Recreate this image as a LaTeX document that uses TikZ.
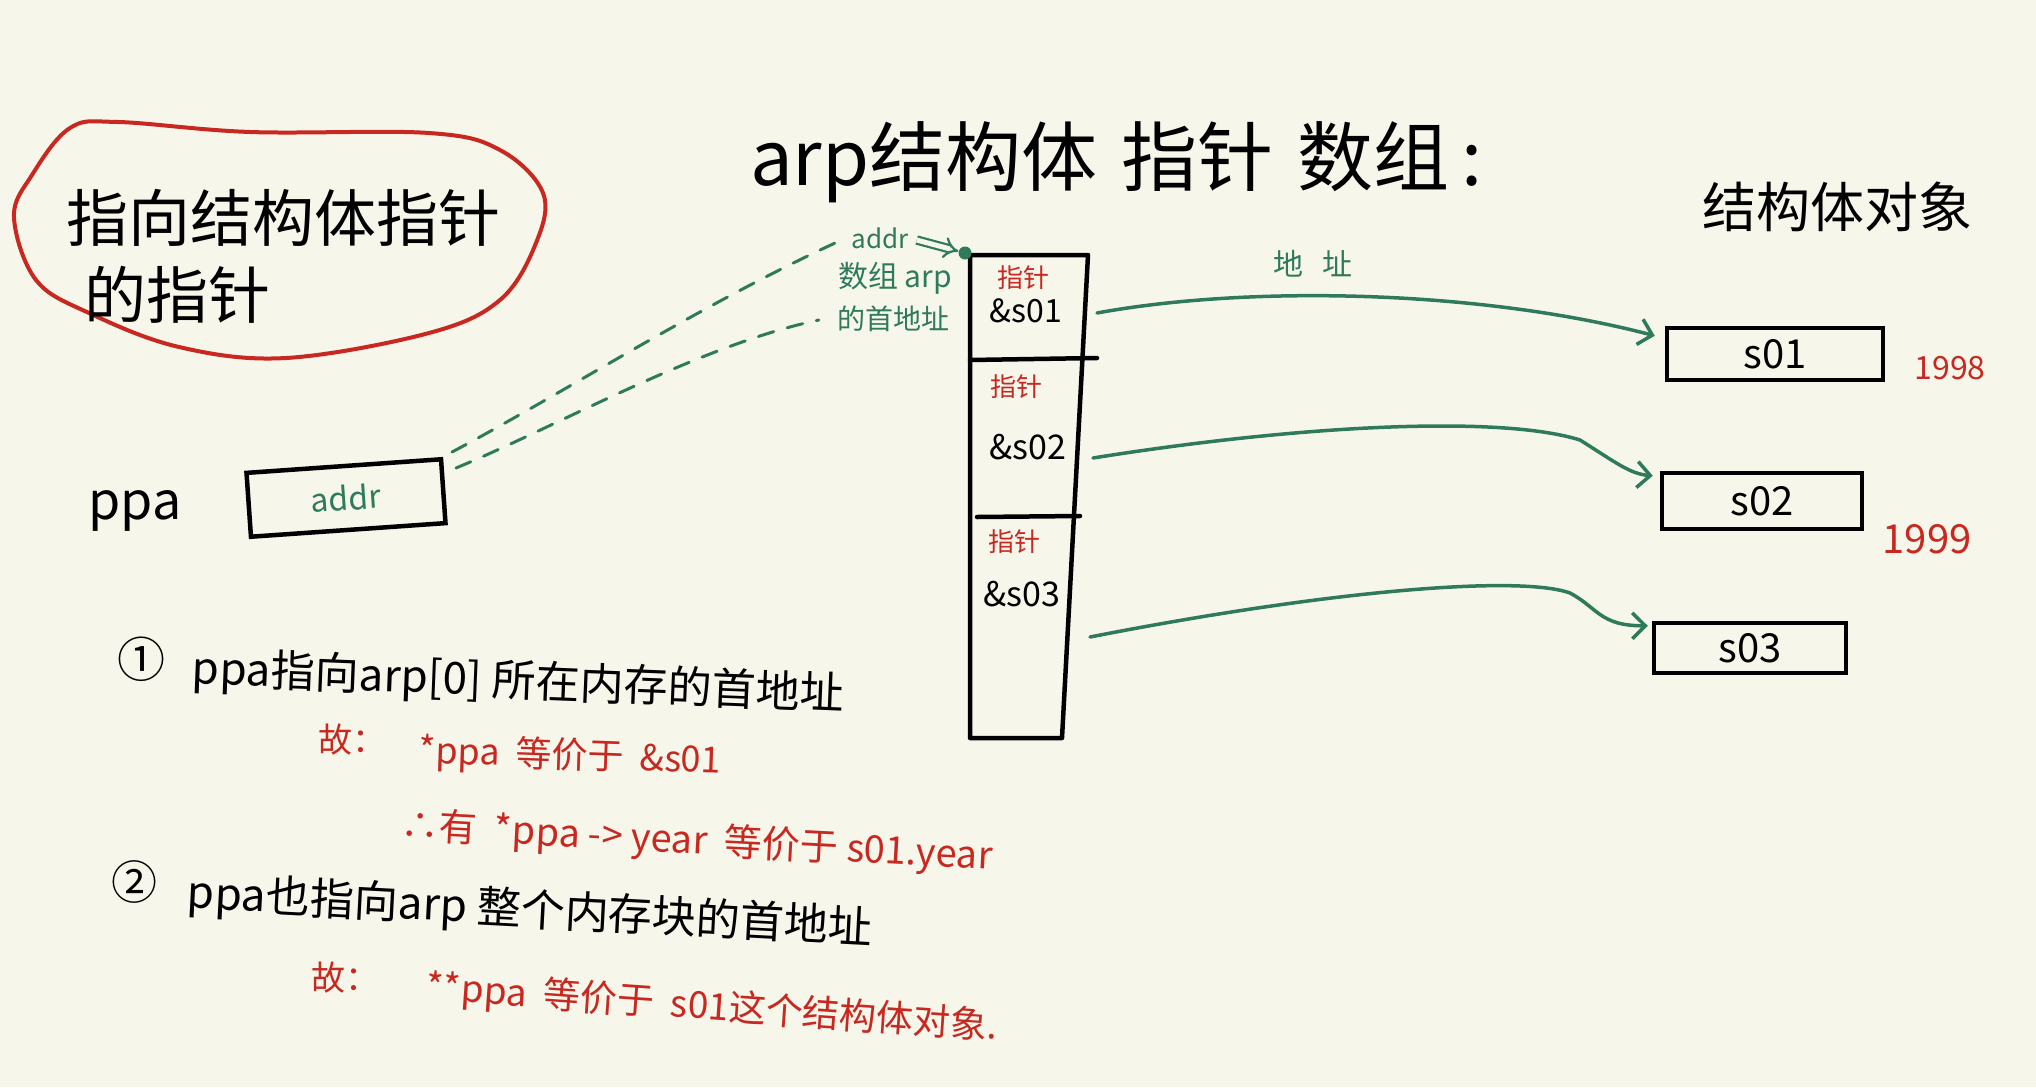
\documentclass[tikz,border=0pt]{standalone}
\usepackage{fontspec}
\setmainfont{Noto Sans CJK SC}
\usetikzlibrary{arrows.meta,calc}
\definecolor{bg}{RGB}{246,246,235}
\definecolor{gn}{RGB}{47,122,90}
\definecolor{rd}{RGB}{200,40,32}
\newcommand{\fsz}[1]{\fontsize{#1}{#1}\selectfont}
\begin{document}
\begin{tikzpicture}[x=1pt,y=-1pt,
  txt/.style={inner sep=0pt, text=black},
  gtxt/.style={inner sep=0pt, text=gn},
  rtxt/.style={inner sep=0pt, text=rd},
  hbox/.style={draw=black, line width=4.5pt, inner sep=0pt},
  thick line/.style={draw=black, line width=4.5pt, line join=round, line cap=round},
  garrow/.style={draw=gn, line width=3.5pt, line cap=round, -{Straight Barb[length=13pt,width=26pt]}},
  gdash/.style={draw=gn, line width=3pt, dash pattern=on 16pt off 14pt, line cap=round},
]
\useasboundingbox (0,0) rectangle (2036,1087);
\fill[bg] (0,0) rectangle (2036,1087);

% red blob with its text
\draw[rd, line width=4pt] plot[smooth cycle, tension=0.6] coordinates {(70,128) (118,122) (250,132) (429,133) (500,150) (543,193) (536,243) (500,300) (429,333) (286,358) (179,347) (89,313) (36,280) (14,217) (32,175)};
\node[txt, font=\fsz{62}] (h1) at (283,218) {指向结构体指针};
\node[txt, font=\fsz{62}] (h2) at (177,295) {的指针};

% titles
\node[txt, font=\fsz{76}, anchor=base west] (title) at (750,185) {arp结构体\hspace{24pt}指针\hspace{24pt}数组\hspace{12pt}:};
\node[txt, font=\fsz{54}] (objs) at (1837,207) {结构体对象};

% pointer ppa
\node[txt, font=\fsz{52}] (ppa) at (135,511) {ppa};
\node[hbox, text=gn, font=\fsz{32}, minimum width=195pt, minimum height=64pt, rotate=4] (pbox) at (346,498) {addr};

% array
\draw[thick line] (970,255) -- (1088,255) -- (1062,738) -- (970,738) -- cycle;
\draw[thick line] (970,360) -- (1097,358);
\draw[thick line] (977,517) -- (1080,516);
\coordinate (dot) at (965,253);
\fill[gn] (dot) circle (6.5);
\node[rtxt, font=\fsz{26}] (p1) at (1023,278) {指针};
\node[txt, font=\fsz{32}] (v1) at (1026,311) {\&s01};
\node[rtxt, font=\fsz{26}] (p2) at (1016,387) {指针};
\node[txt, font=\fsz{34}] (v2) at (1028,447) {\&s02};
\node[rtxt, font=\fsz{26}] (p3) at (1014,542) {指针};
\node[txt, font=\fsz{34}] (v3) at (1022,594) {\&s03};

% labels near array
\node[gtxt, font=\fsz{26}] (addrlbl) at (880,238) {addr};
\node[gtxt, font=\fsz{30}] (lbl2) at (895,278) {数组 arp};
\node[gtxt, font=\fsz{28}] (lbl3) at (893,319) {的首地址};
\draw[gn, line width=2.2pt, double=bg, double distance=5pt, -{Implies}, shorten >=7pt] ($(addrlbl.east)+(8,2)$) -- (dot);

% dashed links
\coordinate (d1s) at (452,452);
\coordinate (d2s) at (456,468);
\draw[gdash] (d1s) .. controls (560,395) and (700,305) .. ($(addrlbl.west)+(-14,4)$);
\draw[gdash] (d2s) .. controls (560,425) and (700,345) .. ($(lbl3.west)+(-18,1)$);

% struct objects
\node[hbox, font=\fsz{40}, minimum width=216pt, minimum height=52pt] (s1) at (1775,354) {s01};
\node[hbox, font=\fsz{40}, minimum width=200pt, minimum height=56pt] (s2) at (1762,501) {s02};
\node[hbox, font=\fsz{40}, minimum width=192pt, minimum height=50pt] (s3) at (1750,648) {s03};
\node[rtxt, font=\fsz{32}] (y1) at (1950,368) {1998};
\node[rtxt, font=\fsz{40}] (y2) at (1927,539) {1999};

% green arrows
\coordinate (a1) at (1097,313);
\coordinate (a2) at (1093,458);
\coordinate (a3) at (1090,637);
\node[gtxt, font=\fsz{30}] (dz) at (1313,264) {地\hspace{20pt}址};
\draw[garrow] (a1) .. controls (1250,285) and (1480,290) .. ($(s1.north west)+(-10,10)$);
\draw[garrow] (a2) .. controls (1300,425) and (1500,415) .. (1580,440) .. controls (1615,462) and (1630,474) .. ($(s2.north west)+(-7,5)$);
\draw[garrow] (a3) .. controls (1330,590) and (1520,575) .. (1570,593) .. controls (1598,608) and (1600,626) .. ($(s3.north west)+(-4,5)$);

% notes
\node[txt, font=\fsz{48}] (n1) at (141,659) {①};
\node[txt, font=\fsz{44}, rotate=-2.3] (l1) at (518,683) {ppa指向arp[0] 所在内存的首地址};
\node[rtxt, font=\fsz{34}] (g1) at (352,740) {故：};
\node[rtxt, font=\fsz{36}, rotate=-2] (r1) at (570,757) {*ppa\ \ 等价于\ \ \&s01};
\node[rtxt, font=\fsz{38}, rotate=-3] (r2) at (697,842) {∴有\ \ *ppa -> year\ \ 等价于 s01.year};
\node[txt, font=\fsz{46}] (n2) at (134,882) {②};
\node[txt, font=\fsz{44}, rotate=-3] (l2) at (530,912) {ppa也指向arp 整个内存块的首地址};
\node[rtxt, font=\fsz{34}] (g2) at (345,978) {故：};
\node[rtxt, font=\fsz{37}, rotate=-4] (r3) at (712,1008) {**ppa\ \ 等价于\ \ s01这个结构体对象.};
\end{tikzpicture}
\end{document}
